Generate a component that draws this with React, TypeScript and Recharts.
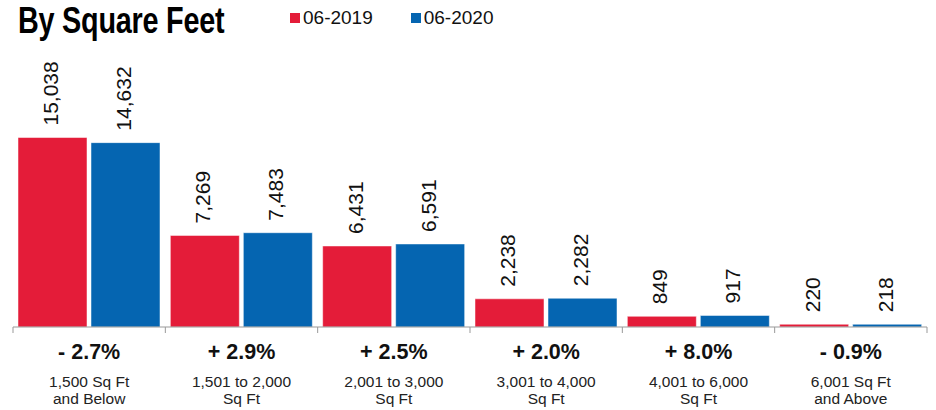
import { BarChart, Bar, XAxis, YAxis, LabelList } from 'recharts'

const categories = ['1,500 Sq Ft|and Below', '1,501 to 2,000|Sq Ft', '2,001 to 3,000|Sq Ft', '3,001 to 4,000|Sq Ft', '4,001 to 6,000|Sq Ft', '6,001 Sq Ft|and Above']
const sales2019 = [15038, 7269, 6431, 2238, 849, 220]
const sales2020 = [14632, 7483, 6591, 2282, 917, 218]
const pctChange = ['- 2.7%', '+ 2.9%', '+ 2.5%', '+ 2.0%', '+ 8.0%', '- 0.9%']
const seriesNames = ['06-2019', '06-2020']

const RED = '#e41c39'
const BLUE = '#0565b1'
const FONT = '"Liberation Sans", Arial, Helvetica, sans-serif'

const W = 936
const H = 410
const M = { top: 75, right: 9, left: 13, bottom: 0 }
const BAND = (W - M.left - M.right) / categories.length

const data = categories.map((c, i) => ({
    name: c,
    y2019: sales2019[i],
    y2020: sales2020[i],
}))

function CategoryTick(props: any) {
    const { x, y, payload, index } = props
    const [l1, l2] = String(payload.value).split('|')
    return (
        <g>
            <line x1={x - BAND / 2} x2={x - BAND / 2} y1={y} y2={y + 6} stroke="#999" />
            {index === categories.length - 1 && (
                <line x1={x + BAND / 2} x2={x + BAND / 2} y1={y} y2={y + 6} stroke="#999" />
            )}
            <text x={x} y={y + 26} textAnchor="middle" dominantBaseline="middle"
                  fontFamily={FONT} fontWeight="bold" fontSize={21.5} fill="#111">
                {pctChange[index]}
            </text>
            <text x={x} y={y + 56} textAnchor="middle" dominantBaseline="middle"
                  fontFamily={FONT} fontSize={15.5} fill="#222">
                {l1}
            </text>
            <text x={x} y={y + 73} textAnchor="middle" dominantBaseline="middle"
                  fontFamily={FONT} fontSize={15.5} fill="#222">
                {l2}
            </text>
        </g>
    )
}

function ValueLabel(props: any) {
    const { x, y, width, value } = props
    const cx = x + width / 2
    const cy = y - 12
    return (
        <text x={cx} y={cy} transform={`rotate(-90 ${cx} ${cy})`} textAnchor="start"
              dominantBaseline="middle" fontFamily={FONT} fontSize={21} fill="#111">
            {Number(value).toLocaleString('en-US')}
        </text>
    )
}

export default function App() {
    const colors = [RED, BLUE]
    return (
        <div style={{ position: 'absolute', top: 0, left: 0, width: W, height: H, background: '#fff' }}>
            <div style={{
                position: 'absolute', left: 18, top: 0, fontFamily: FONT,
                fontWeight: 'bold', fontSize: 36, lineHeight: '42px', color: '#000',
                transform: 'scaleX(0.8)', transformOrigin: 'left top', whiteSpace: 'nowrap', letterSpacing: -0.3,
            }}>
                By Square Feet
            </div>
            <div style={{ position: 'absolute', top: 7, left: 290, display: 'flex', gap: 38, fontFamily: FONT, fontSize: 19, color: '#111' }}>
                {seriesNames.map((s, i) => (
                    <div key={s} style={{ display: 'flex', alignItems: 'center', gap: 3 }}>
                        <div style={{ width: 10, height: 10, background: colors[i] }} />
                        <span>{s}</span>
                    </div>
                ))}
            </div>
            <BarChart width={W} height={H} data={data} margin={M} barCategoryGap={5} barGap={4}>
                <XAxis dataKey="name" interval={0} height={83} tickSize={0} tickMargin={0}
                       tickLine={false} axisLine={{ stroke: '#999' }} tick={<CategoryTick />} />
                <YAxis hide domain={[0, 20000]} />
                <Bar dataKey="y2019" name={seriesNames[0]} fill={RED} stroke="#fff" strokeWidth={0.5} isAnimationActive={false}>
                    <LabelList dataKey="y2019" content={<ValueLabel />} />
                </Bar>
                <Bar dataKey="y2020" name={seriesNames[1]} fill={BLUE} stroke="#fff" strokeWidth={0.5} isAnimationActive={false}>
                    <LabelList dataKey="y2020" content={<ValueLabel />} />
                </Bar>
            </BarChart>
        </div>
    )
}
